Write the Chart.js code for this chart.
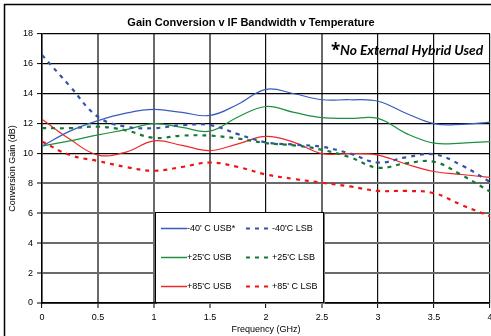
<!DOCTYPE html>
<html>
<head>
<meta charset="utf-8">
<script src="https://cdn.jsdelivr.net/npm/chart.js@4"></script>
<style>
html,body{margin:0;padding:0;background:#fff;overflow:hidden;width:491px;height:336px;}
#wrap{position:absolute;left:0;top:0;width:500px;height:345px;}
</style>
</head>
<body>
<div id="wrap"><canvas id="c" width="500" height="345"></canvas></div>
<script>
const freq = [0,0.25,0.5,0.75,1,1.25,1.5,1.75,2,2.25,2.5,2.75,3,3.25,3.5,3.75,4];
const usbM40 = [10.5,11.5,12.2,12.7,12.95,12.75,12.55,13.3,14.3,14.0,13.6,13.6,13.5,12.7,12.0,11.95,12.1];
const usbP25 = [10.5,10.85,11.25,11.6,12.0,11.75,11.5,12.45,13.15,12.75,12.4,12.35,12.35,11.35,10.7,10.7,10.8];
const usbP85 = [12.3,10.95,9.9,10.1,10.85,10.55,10.2,10.65,11.15,10.75,10.0,10.0,9.9,9.3,8.8,8.6,8.4];
const lsbM40 = [16.6,14.5,12.45,11.8,11.7,11.9,11.9,11.3,10.75,10.6,10.45,10.0,9.4,9.75,9.95,9.2,8.1];
const lsbP25 = [11.7,11.7,11.8,11.55,11.05,11.2,11.2,11.0,10.7,10.55,10.25,9.75,9.05,9.35,9.45,8.55,7.45];
const lsbP85 = [10.8,9.9,9.5,9.1,8.85,9.1,9.4,9.1,8.6,8.3,8.05,7.8,7.5,7.5,7.35,6.55,5.8];
const xTickLabels = ["0","0.5","1","1.5","2","2.5","3","3.5","4"];
const seriesLabels = ["-40' C USB*","-40'C LSB","+25'C USB","+25'C LSB","+85'C USB","+85' C LSB"];
const titleText = "Gain Conversion v IF Bandwidth v Temperature";
const noteText = "No External Hybrid Used";
const xTitle = "Frequency (GHz)";
const yTitle = "Conversion Gain (dB)";

const pts = arr => arr.map((v,i)=>({x:freq[i], y:v}));
const FONT = '"Liberation Sans", Arial, sans-serif';

function solid(label, arr, color){
  return {label, data:pts(arr), borderColor:color, backgroundColor:color, borderWidth:1.2,
    pointRadius:0, tension:0.4, fill:false};
}
function dashed(label, arr, color){
  return {label, data:pts(arr), borderColor:color, backgroundColor:color, borderWidth:2.2,
    borderDash:[4,5], pointRadius:0, tension:0.4, fill:false};
}

const frame = {
  id:'frame',
  beforeDraw(chart){
    const c = chart.ctx;
    c.save();
    c.fillStyle='#fff';
    c.fillRect(0,0,chart.width,chart.height);
    c.strokeStyle='#000';
    c.lineWidth=1.5;
    c.strokeRect(4.5,4.5,600,600);
    c.restore();
  },
  afterDraw(chart){
    const c = chart.ctx;
    c.save();
    c.fillStyle='#000';
    c.textAlign='center';
    c.textBaseline='middle';
    c.font='bold 11px '+FONT;
    c.fillText(titleText,251,23);
    c.textAlign='left';
    c.font='bold 17px "Open Sans", sans-serif';
    c.fillText('*',331,51);
    c.font='italic bold 13.8px Lato, "Open Sans", sans-serif';
    c.fillText(noteText,340,51);
    const lx=155, ly=212, lw=168, lh=90;
    c.fillStyle='#777';
    c.fillRect(lx+2,ly+2,lw,lh);
    c.fillStyle='#fff';
    c.fillRect(lx,ly,lw,lh);
    c.strokeStyle='#000';
    c.lineWidth=1;
    c.strokeRect(lx+0.5,ly+0.5,lw,lh);
    const ds = chart.data.datasets;
    const rows=[228,257,286];
    c.font='9px '+FONT;
    c.textBaseline='middle';
    for(let i=0;i<ds.length;i++){
      const r=Math.floor(i/2), col=i%2;
      const x0 = col===0?161:246;
      const y = rows[r];
      c.save();
      c.strokeStyle=ds[i].borderColor;
      c.lineWidth=col===0?1.5:2.2;
      c.setLineDash(col===0?[]:[4,5]);
      c.beginPath();
      c.moveTo(x0,y+0.5);
      c.lineTo(x0+26,y+0.5);
      c.stroke();
      c.restore();
      c.fillStyle='#000';
      c.textAlign='left';
      c.fillText(ds[i].label,x0+26,y+0.5);
    }
    c.restore();
  }
};

new Chart(document.getElementById('c'),{
  type:'line',
  data:{datasets:[
    solid(seriesLabels[0],usbM40,'#3A5BBE'),
    dashed(seriesLabels[1],lsbM40,'#3352A8'),
    solid(seriesLabels[2],usbP25,'#1E9040'),
    dashed(seriesLabels[3],lsbP25,'#137A35'),
    solid(seriesLabels[4],usbP85,'#EE2828'),
    dashed(seriesLabels[5],lsbP85,'#EE1414')
  ]},
  options:{
    responsive:false,
    animation:false,
    events:[],
    layout:{padding:{top:34,right:10,left:0,bottom:0}},
    plugins:{legend:{display:false},title:{display:false},tooltip:{enabled:false}},
    scales:{
      x:{
        type:'linear', min:0, max:4,
        afterFit(s){ s.height = 42; },
        ticks:{stepSize:0.5, color:'#000', font:{family:FONT,size:9}, padding:4, maxRotation:0, autoSkip:false,
          callback:(v,i)=>xTickLabels[i]},
        grid:{
          color:ctx=>{const v=ctx.tick.value; return (v===0.5||v===1||v===1.5||v===2.5)?'#6a6a6a':'#111';},
          lineWidth:ctx=>{const v=ctx.tick.value; return (v===0.5||v===1||v===1.5||v===2.5)?2:1.2;},
          tickColor:'#000', tickLength:5, tickWidth:1
        },
        border:{color:'#000',width:1.5},
        title:{display:true,text:xTitle,color:'#000',font:{family:FONT,size:9},padding:{top:0,bottom:10}}
      },
      y:{
        min:0, max:18,
        afterFit(s){ s.width = 42; },
        ticks:{stepSize:2, color:'#000', font:{family:FONT,size:9}, padding:4},
        grid:{
          color:ctx=>ctx.tick.value>=10?'#000':'#6a6a6a',
          lineWidth:ctx=>ctx.tick.value>=10?1.2:2,
          tickColor:'#000', tickLength:5, tickWidth:1
        },
        border:{color:'#000',width:1.5},
        title:{display:true,text:yTitle,color:'#000',font:{family:FONT,size:9},padding:{top:7,bottom:0}}
      }
    }
  },
  plugins:[frame]
});
</script>
</body>
</html>
